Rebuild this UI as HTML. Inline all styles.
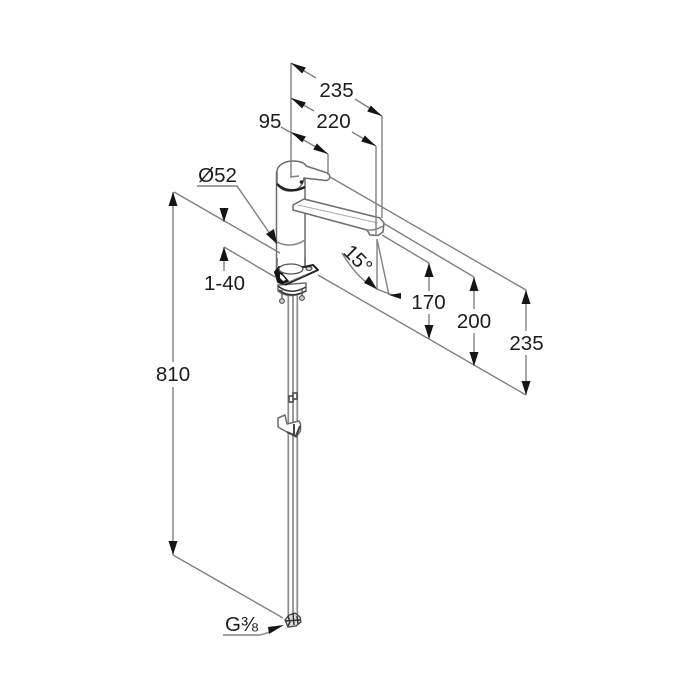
<!DOCTYPE html>
<html><head><meta charset="utf-8"><style>
html,body{margin:0;padding:0;background:#fff}
svg{display:block;filter:blur(0.35px)}
text{font-family:"Liberation Sans",sans-serif;font-size:20.5px;fill:#1c1c1c;text-anchor:middle}
.d{fill:none;stroke:#808080;stroke-width:1.4}
.p{fill:#fff;stroke:#6c6c6c;stroke-width:1.5;stroke-linejoin:round}
.k{fill:#151515;stroke:none}
</style></head><body>
<svg width="700" height="700" viewBox="0 0 700 700" xmlns="http://www.w3.org/2000/svg">
<!-- tubes -->
<g fill="none" stroke="#8c8c8c" stroke-width="1.7">
<path d="M288.300 290V616M293 290V616M297.300 290V616"/>
</g>
<!-- body -->
<path class="p" d="M276.500 172V272H305V172Z"/>
<path class="d" d="M277 242Q291 249 305 240"/>
<path class="p" d="M277 172C277 165 285 161 293 161C300 161 305 163 306 166L326 172.500C331 174 331 180 326 180.500L304 178C303 185 298 191 290 191C282 191 277 186 277 181Z"/>
<path fill="none" stroke="#222" stroke-width="2.400" d="M277 184Q288 195 305 187"/>
<circle cx="301.500" cy="182" r="1.800" fill="#222"/>
<path class="d" d="M291 162V177M290 177L299 176"/>
<path class="p" d="M293 205L304 199L380 218L384 223L383 232L378 235.500L370 235L367 230L293 210Z"/>
<path fill="none" stroke="#aaa" stroke-width="1" d="M298 205L378 223"/>
<path class="d" d="M367 230Q375 231 383 226"/>
<!-- rings below plate -->
<path class="p" d="M278 285V291Q290 300 306 291V283Z"/>
<path fill="none" stroke="#333" stroke-width="1.500" d="M278 286Q290 296 306 287M279 290Q290 299 306 291"/>
<path fill="none" stroke="#555" stroke-width="1.300" d="M282 290V299M302 289V296"/>
<circle cx="282" cy="301" r="2.400" fill="#ccc" stroke="#444"/>
<circle cx="302" cy="298" r="2.400" fill="#ccc" stroke="#444"/>
<!-- plate -->
<path d="M275 272L279 267L304 267L313 265L318 270L286 284.500L278 282Z" fill="#fff" stroke="#222" stroke-width="2" stroke-linejoin="round"/>
<path class="k" d="M274 272L279 266L286 270L283 274L289 281L286 285L278 283Z"/>
<path fill="#fff" d="M280 274L283 276L286 280L283 281L280 278Z"/>
<ellipse cx="291" cy="269" rx="12" ry="5" fill="#fff" stroke="#555" stroke-width="1.300"/>
<path d="M277 258V266M305 258V266" stroke="#6c6c6c" stroke-width="1.500"/>
<ellipse cx="309" cy="268.500" rx="3" ry="1.800" fill="#ddd" stroke="#333"/>
<path fill="none" stroke="#777" stroke-width="1.200" d="M284 284L305 275"/>
<!-- clamp -->
<path class="p" d="M278 418L285 415L287 424L299 421L300.500 424V431L296 437L287 432L278 427Z"/>
<path fill="none" stroke="#444" stroke-width="2" d="M287 432L296 436L300 426M294 424V435"/>
<path fill="none" stroke="#555" stroke-width="1.700" d="M289 396H293V402H289ZM293 393H297V399H293Z"/>
<!-- foot -->
<path fill="#ddd" stroke="#444" stroke-width="1.300" d="M285 620L289 615L295 613L300 617L301 622L296 626L288 627Z"/>
<path fill="none" stroke="#333" stroke-width="1.500" d="M288 616L290 622L288 626M293 613L294 625M297 616L298 624M285 621L300 620"/>
<!-- extension and dimension lines -->
<g class="d">
<path d="M291 63V162M382 116V218M376 146V235M328 154V175"/>
<path d="M291 63L316 78M355 99L382 116M291 98L314 111M352 132L376 146M281 127L328 154"/>
<path d="M330 177L526 290M383 223L474 277M382 235L429 263"/>
<path d="M174 192L280 253M224 247L275 277M318 275L526 395M173 555L283 618"/>
<path d="M173 192V362M173 387V555M429 263V291M429 314V339M474 277V309M474 333V366M526 290V331M526 355V395"/>
<path d="M224 209V222M224 247V271"/>
<path d="M197 186H237L277 244"/>
<path d="M377 239V290M377 239L389 295M342 253Q358 280 377 289Q388 294 401 297"/>
<path d="M223 635H260L270 632"/>
</g>
<!-- arrowheads -->
<g class="k">
<path d="M291 63L305.800 67.500L302.200 73.500Z"/><path d="M382 116L367.200 111.500L370.800 105.500Z"/>
<path d="M291 98L305.800 102.500L302.200 108.500Z"/><path d="M376 146L361.200 141.500L364.800 135.500Z"/>
<path d="M291 132L305.800 136.500L302.200 142.500Z"/><path d="M328 154L313.200 149.500L316.800 143.500Z"/>
<path d="M173 192L177.500 206H168.500Z"/><path d="M173 555L168.500 541H177.500Z"/>
<path d="M429 263L433.500 277H424.500Z"/><path d="M429 339L424.500 325H433.500Z"/>
<path d="M474 277L478.500 291H469.500Z"/><path d="M474 366L469.500 352H478.500Z"/>
<path d="M526 290L530.500 304H521.500Z"/><path d="M526 395L521.500 381H530.500Z"/>
<path d="M224 222L219.500 208H228.500Z"/><path d="M224 247L228.500 261H219.500Z"/>
<path d="M277 244L266 234L274 229Z"/>
<path d="M377 289L364 283L369 276Z"/><path d="M389 295L401 293V299Z"/>
<path d="M284 625L269 634L268 627Z"/>
</g>
<!-- labels -->
<text x="336.500" y="97">235</text>
<text x="333.500" y="128">220</text>
<text x="270" y="128">95</text>
<text x="217.500" y="182">Ø52</text>
<text x="224.500" y="290">1-40</text>
<text x="428.500" y="309">170</text>
<text x="474" y="328">200</text>
<text x="526.500" y="350">235</text>
<text x="173" y="381">810</text>
<text transform="translate(358 259) rotate(45)" y="7">15°</text>
<text x="241.500" y="631">G⅜</text>
</svg>
</body></html>
